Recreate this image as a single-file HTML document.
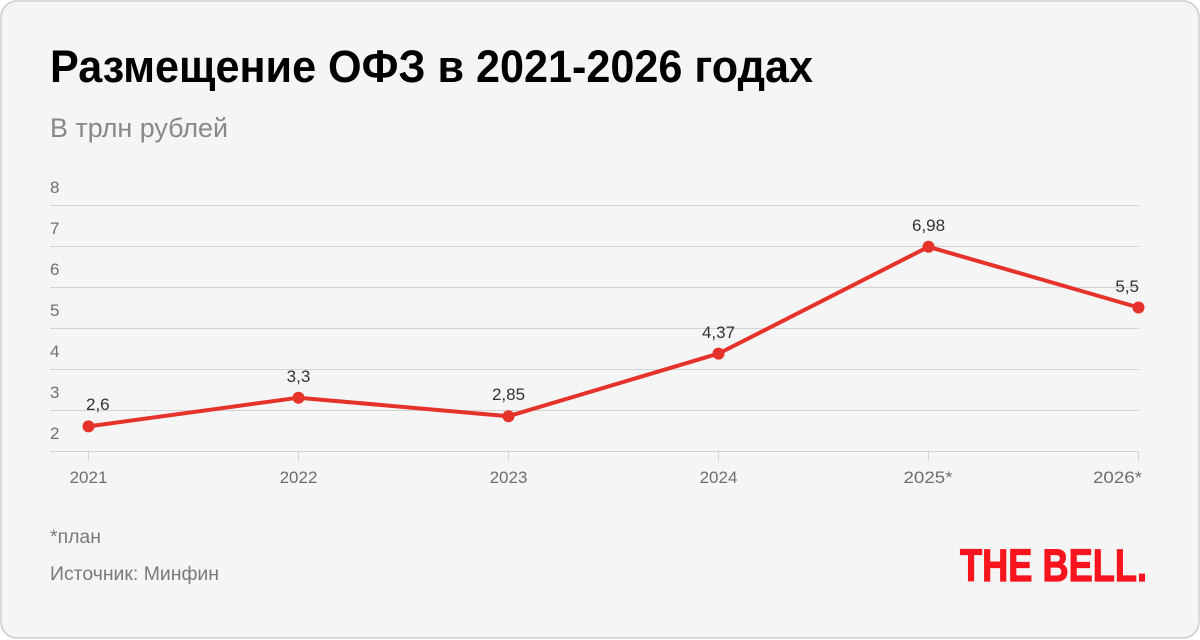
<!DOCTYPE html>
<html><head><meta charset="utf-8">
<style>
html,body{margin:0;padding:0;background:#fff;width:1200px;height:640px;overflow:hidden}
svg{display:block}
text{font-family:"Liberation Sans","DejaVu Sans",sans-serif}
</style></head>
<body>
<svg width="1200" height="640" viewBox="0 0 1200 640" xmlns="http://www.w3.org/2000/svg">
<rect x="1" y="1" width="1198" height="637" rx="16" ry="16" fill="#f5f5f5" stroke="#cdcdcd" stroke-width="1.5"/>
<text x="50" y="82" font-size="45" font-weight="bold" fill="#000" textLength="763" lengthAdjust="spacingAndGlyphs">Размещение ОФЗ в 2021-2026 годах</text>
<text x="50" y="137" font-size="27" fill="#888" textLength="178" lengthAdjust="spacingAndGlyphs">В трлн рублей</text>
<g stroke="#d2d2d2" stroke-width="1">
<line x1="50" y1="205.5" x2="1139" y2="205.5"/>
<line x1="50" y1="246.5" x2="1139" y2="246.5"/>
<line x1="50" y1="287.5" x2="1139" y2="287.5"/>
<line x1="50" y1="328.5" x2="1139" y2="328.5"/>
<line x1="50" y1="369.5" x2="1139" y2="369.5"/>
<line x1="50" y1="410.5" x2="1139" y2="410.5"/>
<line x1="50" y1="451.5" x2="1139" y2="451.5"/>
<line x1="88.5" y1="451" x2="88.5" y2="461"/>
<line x1="298.5" y1="451" x2="298.5" y2="461"/>
<line x1="508.5" y1="451" x2="508.5" y2="461"/>
<line x1="718.5" y1="451" x2="718.5" y2="461"/>
<line x1="928.5" y1="451" x2="928.5" y2="461"/>
<line x1="1138.5" y1="451" x2="1138.5" y2="461"/>
</g>
<g font-size="17" fill="#6f6f6f">
<text x="50" y="193">8</text>
<text x="50" y="234">7</text>
<text x="50" y="275">6</text>
<text x="50" y="316">5</text>
<text x="50" y="357">4</text>
<text x="50" y="398">3</text>
<text x="50" y="439">2</text>
</g>
<g font-size="17" fill="#6f6f6f" text-anchor="middle">
<text x="88.5" y="483">2021</text>
<text x="298.5" y="483">2022</text>
<text x="508.5" y="483">2023</text>
<text x="718.5" y="483">2024</text>
</g>
<g font-size="17" fill="#6f6f6f">
<text x="903.5" y="483" textLength="49" lengthAdjust="spacingAndGlyphs">2025*</text>
<text x="1093" y="483" textLength="49" lengthAdjust="spacingAndGlyphs">2026*</text>
</g>
<polyline fill="none" stroke="#e5322a" stroke-width="4" stroke-linejoin="round" points="88.5,426.4 298.5,397.7 508.5,416.2 718.5,353.6 928.5,246.8 1138.5,307.5"/>
<g fill="#e5322a">
<circle cx="88.5" cy="426.4" r="6"/>
<circle cx="298.5" cy="397.7" r="6"/>
<circle cx="508.5" cy="416.2" r="6"/>
<circle cx="718.5" cy="353.6" r="6"/>
<circle cx="928.5" cy="246.8" r="6"/>
<circle cx="1138.5" cy="307.5" r="6"/>
</g>
<g font-size="17" fill="#333">
<text x="86" y="410">2,6</text>
<text x="298.5" y="382" text-anchor="middle">3,3</text>
<text x="508.5" y="400" text-anchor="middle">2,85</text>
<text x="718.5" y="338" text-anchor="middle">4,37</text>
<text x="928.5" y="231" text-anchor="middle">6,98</text>
<text x="1139" y="292" text-anchor="end">5,5</text>
</g>
<text x="50" y="543" font-size="19" fill="#7a7a7a" textLength="51" lengthAdjust="spacingAndGlyphs">*план</text>
<text x="50" y="580" font-size="19" fill="#7a7a7a" textLength="169" lengthAdjust="spacingAndGlyphs">Источник: Минфин</text>
<text x="960" y="581" font-size="45" font-weight="900" fill="#f7141c" stroke="#f7141c" stroke-width="1.2" textLength="187" lengthAdjust="spacingAndGlyphs">THE BELL.</text>
</svg>
</body></html>
